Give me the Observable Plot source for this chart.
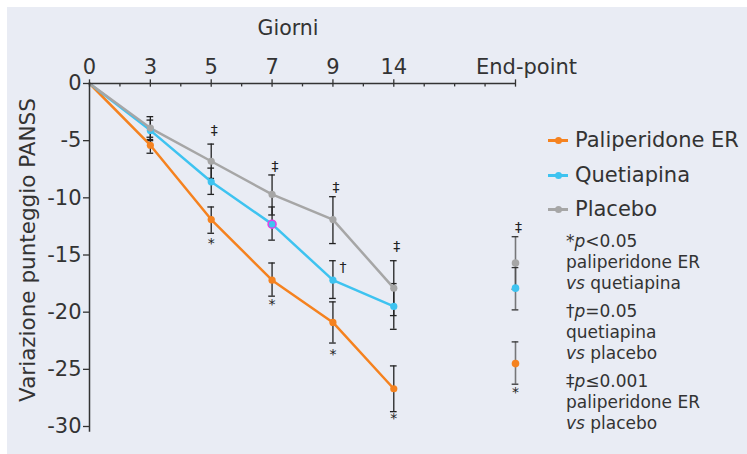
<!DOCTYPE html>
<html>
<head>
<meta charset="utf-8">
<script src="https://cdn.jsdelivr.net/npm/d3@7"></script>
<script src="https://cdn.jsdelivr.net/npm/@observablehq/plot@0.6"></script>
<style>
  body { margin: 0; background: #fff; font-family: "DejaVu Sans", Verdana, sans-serif; color: #333; }
  #wrap { position: relative; width: 747px; height: 454px; overflow: hidden; background: #fff; }
  #panel { position: absolute; left: 7px; top: 7px; width: 740px; height: 447px; background: #e9ecf4; }
  #chart { position: absolute; left: 0; top: 0; }
  #xtitle { position: absolute; left: 288px; top: 28px; transform: translate(-50%, -50%); font-size: 20.5px; white-space: nowrap; }
  #ytitle { position: absolute; left: 27px; top: 250px; transform: translate(-50%, -50%) rotate(-90deg); font-size: 21.5px; white-space: nowrap; }
  #legend { position: absolute; left: 548px; top: 0; }
  .lg { position: absolute; left: 0; height: 24px; display: flex; align-items: center; white-space: nowrap; font-size: 21px; }
  .sw { position: relative; width: 20px; height: 24px; margin-right: 7px; }
  .sw .ln { position: absolute; left: 0; right: 0; top: 11px; height: 2.5px; }
  .sw .dt { position: absolute; left: 6.5px; top: 8.5px; width: 7px; height: 7px; border-radius: 50%; }
  #notes { position: absolute; left: 566px; top: 230.5px; font-size: 17px; line-height: 21px; white-space: nowrap; }
  #notes p { margin: 0 0 7px 0; }
</style>
</head>
<body>
<div id="wrap">
  <div id="panel"></div>
  <div id="chart"></div>
  <div id="xtitle">Giorni</div>
  <div id="ytitle">Variazione punteggio PANSS</div>
  <div id="legend"></div>
  <div id="notes">
    <p>*<i>p</i>&lt;0.05<br>paliperidone ER<br><i>vs</i> quetiapina</p>
    <p>†<i>p</i>=0.05<br>quetiapina<br><i>vs</i> placebo</p>
    <p>‡<i>p</i>≤0.001<br>paliperidone ER<br><i>vs</i> placebo</p>
  </div>
</div>
<script>
// ---- data ----
const dayLabels = ["0", "3", "5", "7", "9", "14", "", "End-point"];
const dayTickIdx = [0, 1, 2, 3, 4, 5];
const majorTickIdx = [0, 1, 2, 3, 4, 5, 7];
const minorTickIdx = [0.5, 1.5, 2.5, 3.5, 4.5, 5.5, 6, 6.5];
const yTicks = [0, -5, -10, -15, -20, -25, -30];
const timeIdx = [0, 1, 2, 3, 4, 5];
const endpointIdx = 7;

const seriesNames = ["Paliperidone ER", "Quetiapina", "Placebo"];
const seriesColors = ["#f5821f", "#3ec3f0", "#a6a6a6"];

const paliperidone = [0, -5.4, -11.9, -17.2, -20.9, -26.7];
const quetiapina   = [0, -4.1, -8.6, -12.3, -17.2, -19.5];
const placebo      = [0, -3.9, -6.8, -9.7, -11.9, -17.9];

const palLo = [null, -6.1, -13.1, -18.6, -22.7, -28.7];
const palHi = [null, -4.7, -10.8, -15.7, -19.1, -24.7];
const queLo = [null, -5.0, -9.7, -13.7, -18.8, -21.5];
const queHi = [null, -3.2, -7.4, -10.8, -15.5, -17.5];
const plaLo = [null, -4.9, -8.3, -11.5, -14.0, -20.3];
const plaHi = [null, -2.9, -5.3, -8.0, -9.9, -15.5];

const endValues = [-24.5, -17.9, -15.7];
const endLo = [-26.3, -19.8, -18.0];
const endHi = [-22.6, -16.1, -13.4];

// significance markers
const ddaggerIdx = [2, 3, 4, 5, 7];
const ddaggerY = [-4.1, -7.3, -9.1, -14.3, -12.6];
const starIdx = [2, 3, 4, 5, 7];
const starY = [-14.0, -19.3, -23.7, -29.3, -27.0];
const daggerIdx = [4];
const daggerY = [-16.1];

// highlighted point (Quetiapina, day 7)
const highlight = [{i: 3, v: -12.3}];

// ---- build tables ----
const vals = [paliperidone, quetiapina, placebo];
const los = [palLo, queLo, plaLo];
const his = [palHi, queHi, plaHi];
const rows = [];
const errs = [];
seriesNames.forEach((name, s) => {
  timeIdx.forEach((i, k) => {
    rows.push({series: name, i, v: vals[s][k]});
    if (los[s][k] != null) errs.push({series: name, i, lo: los[s][k], hi: his[s][k]});
  });
});
const ends = seriesNames.map((name, s) => ({series: name, i: endpointIdx, v: endValues[s], lo: endLo[s], hi: endHi[s]}));
const dd = ddaggerIdx.map((i, k) => ({i, y: ddaggerY[k]}));
const st = starIdx.map((i, k) => ({i, y: starY[k]}));
const dg = daggerIdx.map((i, k) => ({i, y: daggerY[k]}));

const cap = 0.055;

const chart = Plot.plot({
  width: 747,
  height: 454,
  marginLeft: 89,
  marginRight: 232,
  marginTop: 83,
  marginBottom: 28,
  style: {background: "transparent", fontFamily: "'DejaVu Sans', Verdana, sans-serif", fontSize: "21px", color: "#333", overflow: "visible"},
  x: {domain: [0, 7], axis: null},
  y: {domain: [-30, 0], axis: null},
  color: {domain: seriesNames, range: seriesColors},
  marks: [
    // error bars (time points)
    Plot.ruleX(errs, {x: "i", y1: "lo", y2: "hi", stroke: "#222", strokeWidth: 1.3}),
    Plot.ruleY(errs, {y: "lo", x1: d => d.i - cap, x2: d => d.i + cap, stroke: "#222", strokeWidth: 1.3}),
    Plot.ruleY(errs, {y: "hi", x1: d => d.i - cap, x2: d => d.i + cap, stroke: "#222", strokeWidth: 1.3}),
    // error bars (end-point)
    Plot.ruleX(ends, {x: "i", y1: "lo", y2: "hi", stroke: "#444", strokeOpacity: 0.7, strokeWidth: 1.6}),
    Plot.ruleY(ends, {y: "lo", x1: d => d.i - cap, x2: d => d.i + cap, stroke: "#333", strokeWidth: 1.3}),
    Plot.ruleY(ends, {y: "hi", x1: d => d.i - cap, x2: d => d.i + cap, stroke: "#333", strokeWidth: 1.3}),
    // lines and points
    Plot.line(rows, {x: "i", y: "v", z: "series", stroke: "series", strokeWidth: 2.5}),
    Plot.dot(rows.filter(d => d.i > 0), {x: "i", y: "v", fill: "series", r: 3.6}),
    Plot.dot(ends, {x: "i", y: "v", fill: "series", r: 3.8}),
    Plot.dot(highlight, {x: "i", y: "v", fill: seriesColors[1], stroke: "#e33de6", strokeWidth: 1.5, r: 4}),
    // significance symbols
    Plot.text(dd, {x: "i", y: "y", text: () => "‡", dx: 3, fontSize: 14, fill: "#222"}),
    Plot.text(st, {x: "i", y: "y", text: () => "*", fontSize: 14, fill: "#222"}),
    Plot.text(dg, {x: "i", y: "y", text: () => "†", dx: 10, fontSize: 14, fill: "#222"}),
    // axes
    Plot.ruleY([0], {x1: 0, x2: 7, stroke: "#333", strokeWidth: 1.5}),
    Plot.ruleX([0], {y1: 0, y2: -30.5, stroke: "#333", strokeWidth: 1.5}),
    Plot.ruleX(majorTickIdx, {x: d => d, y1: 0.32, y2: -0.32, stroke: "#333", strokeWidth: 1.3}),
    Plot.ruleX(minorTickIdx, {x: d => d, y1: 0, y2: -0.3, stroke: "#333", strokeWidth: 1.3}),
    Plot.axisX({anchor: "top", ticks: dayTickIdx, tickFormat: i => dayLabels[i], tickSize: 0, tickPadding: 10, label: null, fill: "#333"}),
    Plot.axisX({anchor: "top", ticks: [endpointIdx], tickFormat: i => dayLabels[i], tickSize: 0, tickPadding: 10, dx: 11, label: null, fill: "#333"}),
    Plot.axisY({anchor: "left", ticks: yTicks, tickFormat: d => d === 0 ? "0" : "-" + Math.abs(d), tickSize: 6, tickPadding: 2, label: null, stroke: "#333", fill: "#333", strokeWidth: 1.3})
  ]
});
document.getElementById("chart").appendChild(chart);

// legend
const lg = document.getElementById("legend");
const legendTops = [128, 163, 197];
seriesNames.forEach((name, s) => {
  const row = document.createElement("div");
  row.className = "lg";
  row.style.top = legendTops[s] + "px";
  row.innerHTML = `<div class="sw"><div class="ln" style="background:${seriesColors[s]}"></div><div class="dt" style="background:${seriesColors[s]}"></div></div><span>${name}</span>`;
  lg.appendChild(row);
});
</script>
</body>
</html>
